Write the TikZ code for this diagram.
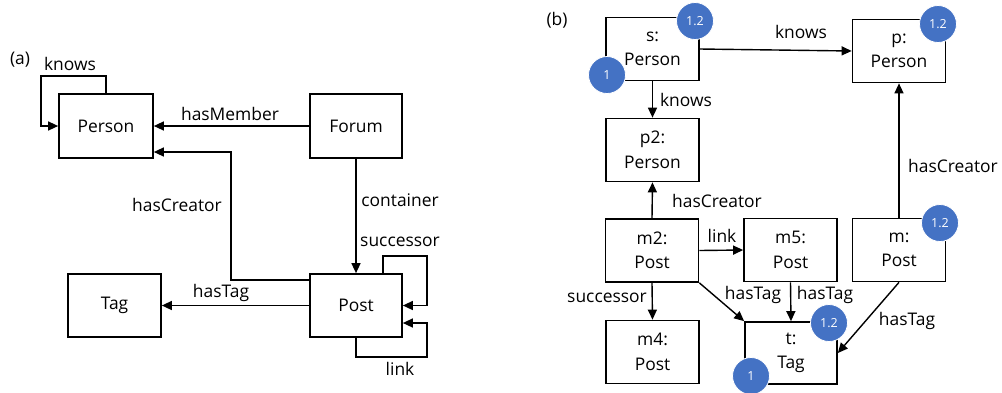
\documentclass[tikz,border=0pt]{standalone}
\usepackage{fontspec}
\setmainfont{Open Sans}
\usetikzlibrary{arrows.meta}
\definecolor{badgeblue}{HTML}{4472C4}
\begin{document}
\begin{tikzpicture}[x=1pt,y=-1pt,
  box/.style={draw,line width=1.7pt,minimum width=93pt,minimum height=63pt,inner sep=0pt,align=center,font=\fontsize{17.4}{24.5}\selectfont},
  lbl/.style={inner sep=0pt,font=\fontsize{17.4}{24}\selectfont},
  arr/.style={line width=1.4pt,-{Triangle[length=10pt,width=9pt]}},
  badge/.style={circle,fill=badgeblue,draw=white,line width=0.8pt,minimum size=37pt,inner sep=0pt,text=white,font=\fontsize{12.5}{14}\selectfont}]
\useasboundingbox (0,0) rectangle (1002,392);
% ---------- panel (a)
\node[lbl] (la) at (20,60) {(a)};
\node[box,minimum width=94pt,minimum height=64pt] (Person) at (106,126) {Person};
\node[box,minimum width=92pt,minimum height=64pt] (Forum) at (356,126) {Forum};
\node[box,minimum width=92pt,minimum height=63pt] (Post) at (356,305.5) {Post};
\node[box,minimum width=93pt,minimum height=63pt] (Tag) at (114.5,305.5) {Tag};
\coordinate (kn) at (41,76);
\draw[arr] (Person.north) |- (kn) |- (Person.west);
\node[lbl] (lknows) at (70,64) {knows};
\draw[arr] (Forum.west) -- (Person.east);
\node[lbl] (lhm) at (230,114) {hasMember};
\coordinate (hc) at (231,280);
\draw[arr] (Post.west |- hc) -- (hc) |- (Person.east |- 0,152);
\node[lbl] (lhc) at (177,205) {hasCreator};
\draw[arr] (Forum.south) -- (Post.north);
\node[lbl] (lcont) at (400,200) {container};
\draw[arr] (Post.west) -- (Tag.east);
\node[lbl] (lht) at (221,293) {hasTag};
\coordinate (sc) at (427,256);
\draw[arr] (Post.north -| 383,0) |- (sc) |- (Post.east);
\node[lbl] (lsucc) at (400,242) {successor};
\coordinate (lk) at (427,357);
\draw[arr] (Post.south) |- (lk) |- (Post.east |- 0,323);
\node[lbl] (llink) at (400,369) {link};
% ---------- panel (b)
\node[lbl] (lb) at (557,20) {(b)};
\node[box] (s) at (652.5,49) {s:\\Person};
\node[box] (p) at (899,51) {p:\\Person};
\node[box] (p2) at (652.5,150) {p2:\\Person};
\node[box] (m2) at (652,250.5) {m2:\\Post};
\node[box] (m5) at (790.5,250) {m5:\\Post};
\node[box] (m) at (899,250) {m:\\Post};
\node[box] (m4) at (652.5,352) {m4:\\Post};
\node[box,minimum width=92pt,minimum height=62pt] (t) at (791,353) {t:\\Tag};
\draw[arr] (s.east) -- (p.west);
\node[lbl] (lknows2) at (801,32) {knows};
\draw[arr] (s.south) -- (p2.north);
\node[lbl] (lknows3) at (686,100) {knows};
\draw[arr] (m2.north) -- (p2.south);
\node[lbl] (lhc2) at (717,201) {hasCreator};
\draw[arr] (m.north) -- (p.south);
\node[lbl] (lhc3) at (953,166) {hasCreator};
\draw[arr] (m2.east) -- (m5.west);
\node[lbl] (llink2) at (722,236) {link};
\draw[arr] (m2.south) -- (m4.north);
\node[lbl] (lsucc2) at (607,298) {successor};
\draw[arr] (m2.south east) -- (t.north west);
\node[lbl] (lht2) at (753,295) {hasTag};
\draw[arr] (m5.south) -- (t.north);
\node[lbl] (lht3) at (825,295) {hasTag};
\draw[arr] (m.south) -- (t.east);
\node[lbl] (lht4) at (907,321) {hasTag};
% badges
\node[badge] (b1) at (695,21) {1.2};
\node[badge] (b2) at (607,75) {1};
\node[badge] (b3) at (938,24) {1.2};
\node[badge] (b4) at (940,223) {1.2};
\node[badge] (b5) at (829,323) {1.2};
\node[badge] (b6) at (751,376) {1};
\end{tikzpicture}
\end{document}
